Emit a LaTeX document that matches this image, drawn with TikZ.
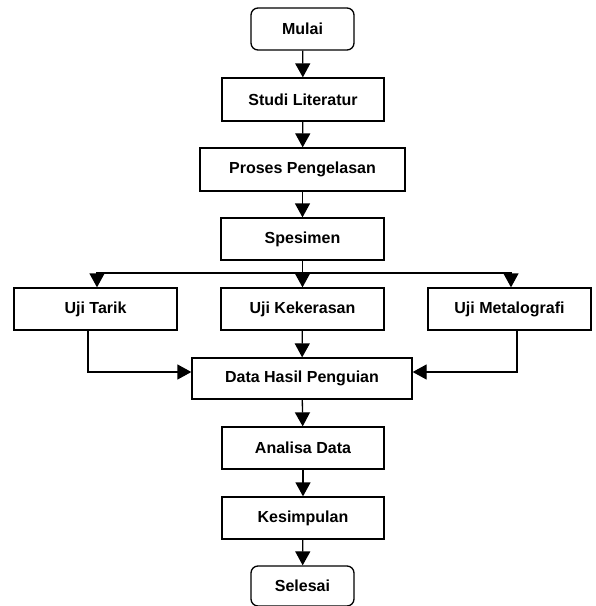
\documentclass[tikz,border=0pt]{standalone}
\usepackage{fontspec}
\setmainfont{Liberation Sans}
\usetikzlibrary{arrows.meta}
\begin{document}
\begin{tikzpicture}[x=1pt,y=-1pt,
  box/.style={draw, line width=1.3pt, inner sep=0pt, font=\fontsize{16}{18}\selectfont\bfseries, align=center},
  term/.style={box, rounded corners=7pt},
  arr/.style={line width=1.3pt, -{Triangle[length=14pt,width=15pt]}},
  ln/.style={line width=1.3pt}]
\useasboundingbox (0,0) rectangle (596,606);
\node[term, minimum width=103pt, minimum height=42pt] (mulai) at (302.5,29) {Mulai};
\node[box, minimum width=162pt, minimum height=43pt] (studi) at (303,99.5) {Studi Literatur};
\node[box, minimum width=205pt, minimum height=43pt] (proses) at (302.5,169.5) {Proses Pengelasan};
\node[box, minimum width=163pt, minimum height=42pt] (spes) at (302.5,239) {Spesimen};
\node[box, minimum width=163pt, minimum height=42pt] (tarik) at (95.5,309) {Uji Tarik};
\node[box, minimum width=163pt, minimum height=42pt] (keras) at (302.5,309) {Uji Kekerasan};
\node[box, minimum width=163pt, minimum height=42pt] (metal) at (509.5,309) {Uji Metalografi};
\node[box, minimum width=220pt, minimum height=41pt] (data) at (302,378.5) {Data Hasil Penguian};
\node[box, minimum width=162pt, minimum height=42pt] (analisa) at (303,448) {Analisa Data};
\node[box, minimum width=162pt, minimum height=42pt] (simpul) at (303,518) {Kesimpulan};
\node[term, minimum width=103pt, minimum height=40pt] (selesai) at (302.5,586) {Selesai};
\coordinate (split) at (302.5,273);
\draw[arr] (mulai) -- (studi);
\draw[arr] (studi) -- (proses);
\draw[arr] (proses) -- (spes);
\draw[ln] (spes.south) -- (split);
\draw[arr] (split) -| ([xshift=1.5pt]tarik.north);
\draw[arr] (split) -| ([xshift=1.5pt]metal.north);
\draw[arr] (split) -- (keras.north);
\draw[arr] ([xshift=-7.5pt]tarik.south) |- ([yshift=6.5pt]data.west);
\draw[arr] ([xshift=7.5pt]metal.south) |- ([yshift=6.5pt]data.east);
\draw[arr] (keras) -- (data);
\draw[arr] (data) -- (analisa);
\draw[arr] (analisa) -- (simpul);
\draw[arr] (simpul) -- (selesai);
\end{tikzpicture}
\end{document}
